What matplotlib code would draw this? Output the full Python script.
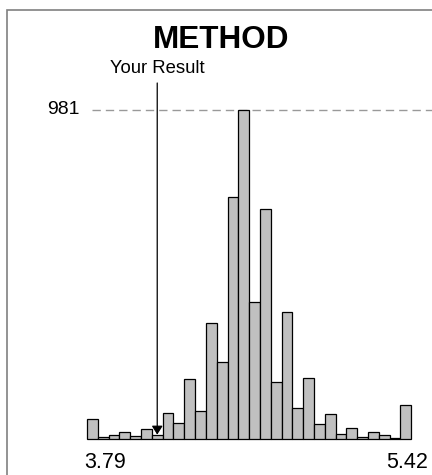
import numpy as np
import matplotlib
matplotlib.use("Agg")
import matplotlib.pyplot as plt
from matplotlib.patches import Rectangle
from matplotlib.transforms import blended_transform_factory

# ---- data ----
title = "METHOD"
x_min, x_max = 3.79, 5.42
tick_labels = ["3.79", "5.42"]
counts = [60, 5, 11, 20, 9, 31, 13, 78, 49, 179,
          83, 345, 229, 722, 981, 409, 686, 169, 379, 92,
          181, 46, 74, 16, 32, 7, 20, 13, 4, 100]
max_label = "981"
your_result = 4.143
result_label = "Your Result"

plt.rcParams['font.family'] = ['Liberation Sans', 'DejaVu Sans']

W, H = 432, 475
fig = plt.figure(figsize=(W / 100, H / 100), dpi=100)

# axes placement in pixels
ax_l, ax_r = 87, 411.3
ax_b, ax_t = 439, 110
ax = fig.add_axes([ax_l / W, (H - ax_b) / H, (ax_r - ax_l) / W, (ax_b - ax_t) / H])
ax.set_xlim(x_min, x_max)
ax.set_ylim(0, max(counts))
ax.axis('off')

edges = np.linspace(x_min, x_max, len(counts) + 1)
ax.bar(edges[:-1], counts, width=np.diff(edges), align='edge',
       color='#c0c0c0', edgecolor='black', linewidth=0.9, zorder=2, clip_on=False)

# dashed max line
ymax = max(counts)
ax.axhline(ymax, xmin=(92 - ax_l) / (ax_r - ax_l), xmax=(435 - ax_l) / (ax_r - ax_l),
           color='#999999', lw=1.0, dashes=(6, 3.6), zorder=1, clip_on=False)
trans = blended_transform_factory(ax.transAxes, ax.transData)
ax.text((80 - ax_l) / (ax_r - ax_l), ymax, max_label, transform=trans,
        ha='right', va='center', fontsize=14)

# x labels
ax.text((84 - ax_l) / (ax_r - ax_l), -13 / (ax_b - ax_t), tick_labels[0],
        transform=ax.transAxes, ha='left', va='top', fontsize=15.5)
ax.text((428 - ax_l) / (ax_r - ax_l), -13 / (ax_b - ax_t), tick_labels[1],
        transform=ax.transAxes, ha='right', va='top', fontsize=15.5)

# your result marker
bin_idx = int(np.searchsorted(edges, your_result) - 1)
ytop = counts[bin_idx]
top_data = (ax_b - 83) / (ax_b - ax_t) * ymax
ax.annotate('', xy=(your_result, ytop), xytext=(your_result, top_data),
            arrowprops=dict(arrowstyle='-|>,head_length=0.4,head_width=0.25',
                            color='black', lw=0.9, shrinkA=0, shrinkB=0,
                            mutation_scale=13),
            zorder=3, annotation_clip=False)
ax.text(your_result, top_data + 6 / (ax_b - ax_t) * ymax, result_label,
        ha='center', va='bottom', fontsize=13.3, zorder=3)

# title
fig.text(221.5 / W, 1 - 48.5 / H, title, ha='center', va='baseline',
         fontsize=22.7, fontweight='bold')

# frame (left/top visible, right/bottom clipped)
fig.patches.append(Rectangle((7 / W, -0.1), 2, 1.1 - 10 / H, transform=fig.transFigure,
                             fill=False, edgecolor='#808080', lw=1.2))

fig.savefig('out.png', dpi=100)
